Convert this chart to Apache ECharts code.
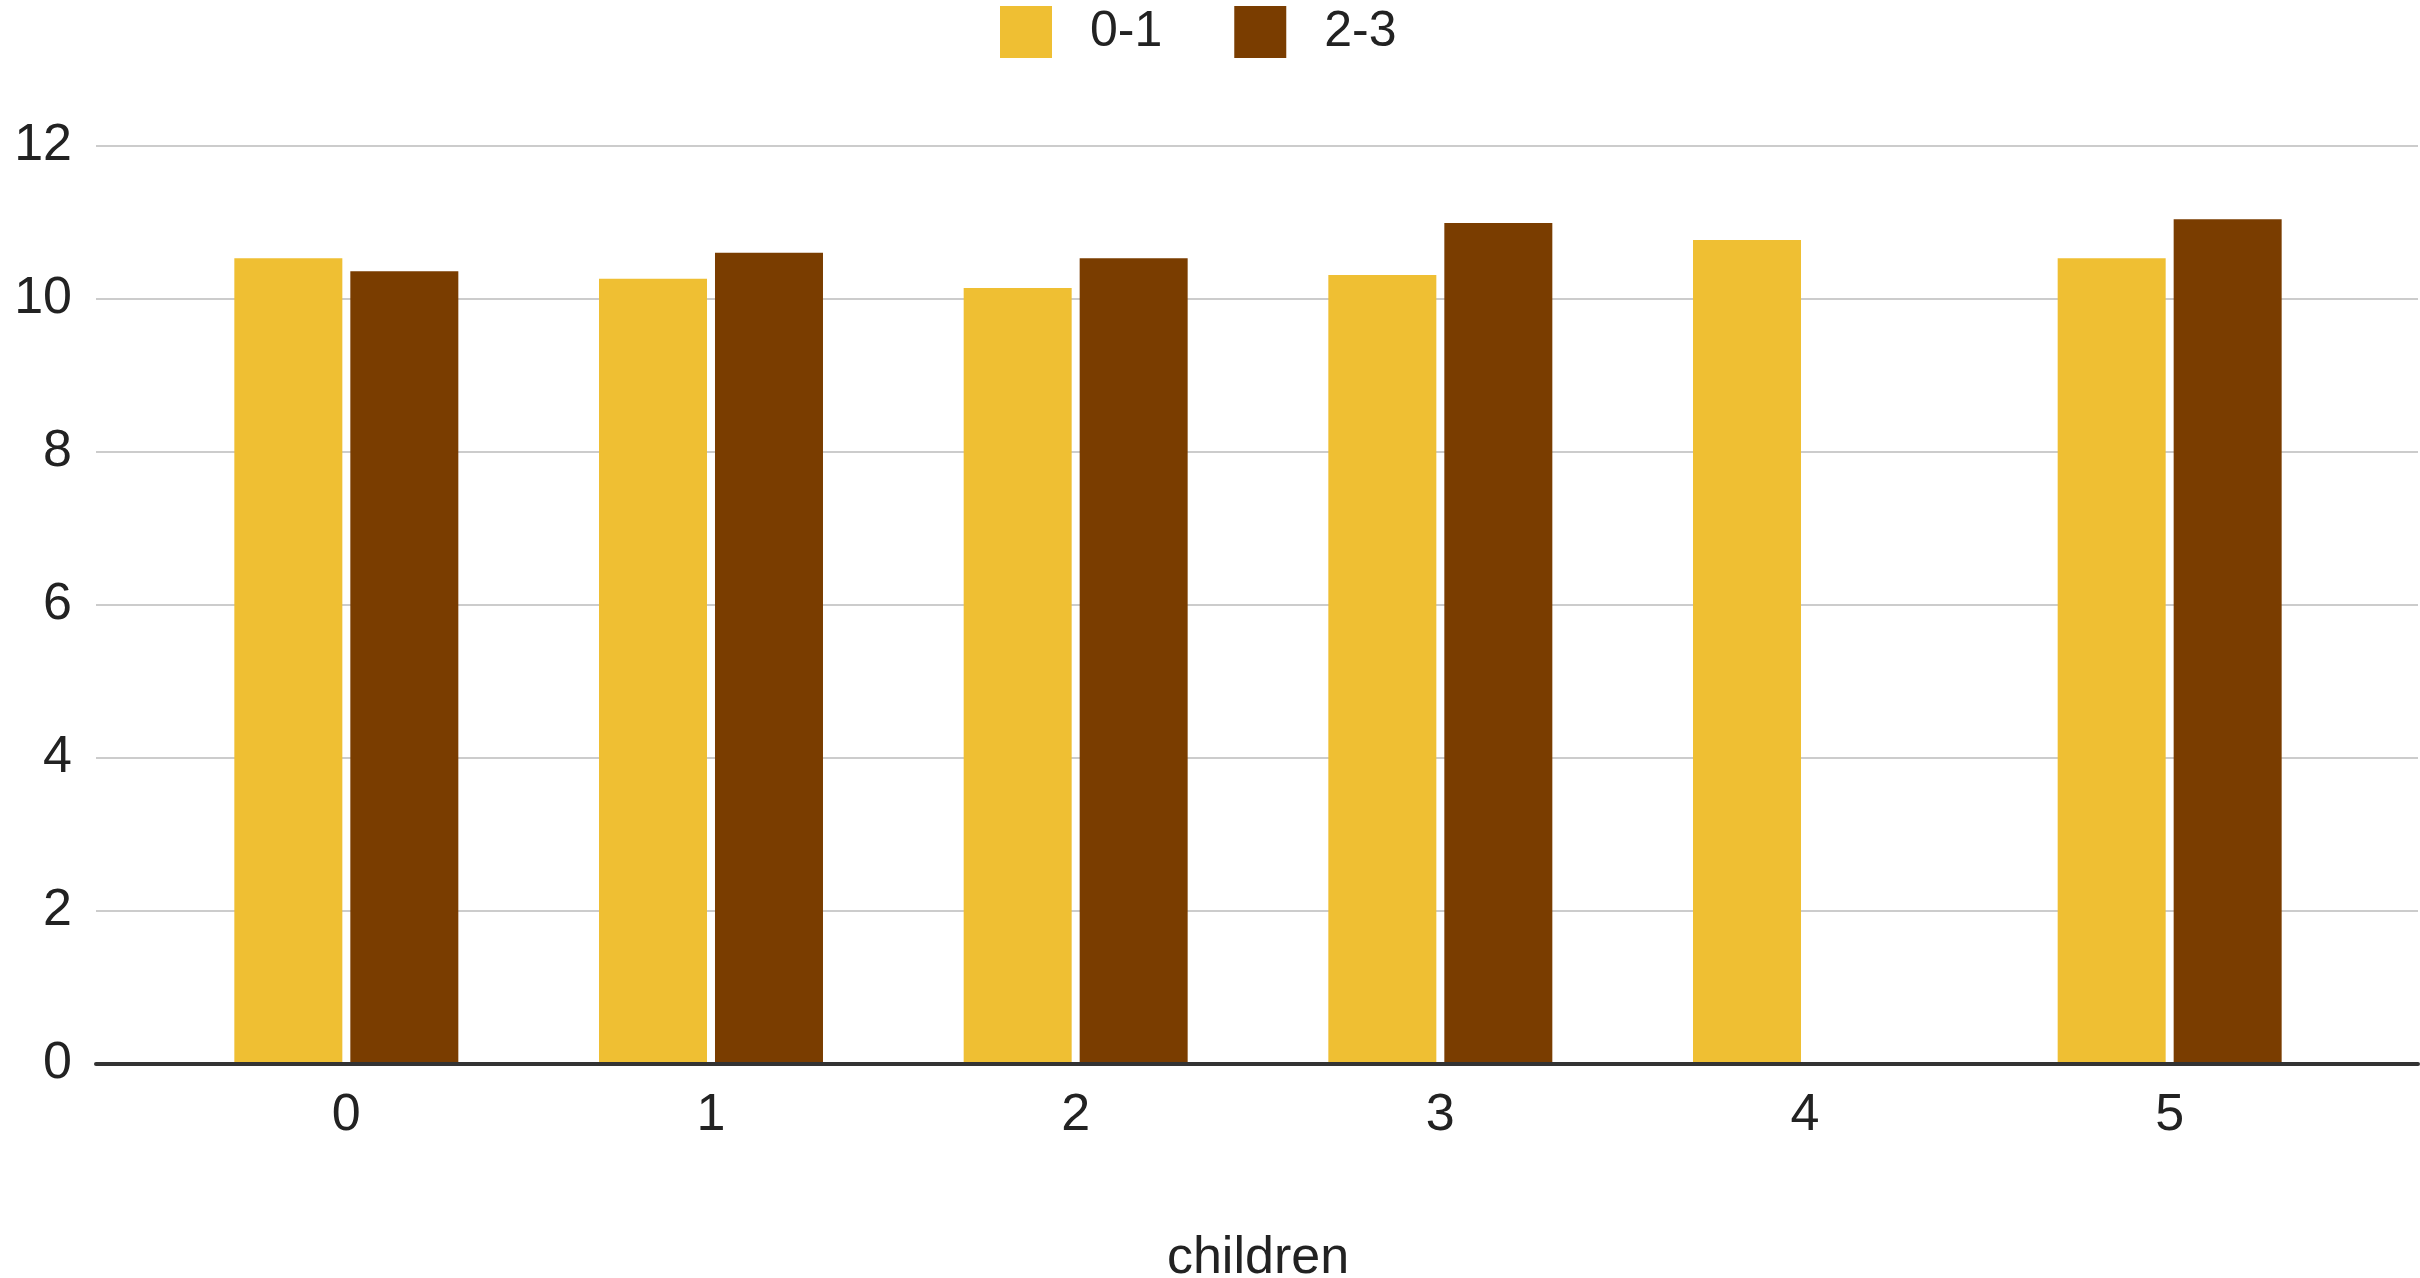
<!DOCTYPE html>
<html>
<head>
<meta charset="utf-8">
<script src="https://cdn.jsdelivr.net/npm/echarts@6/dist/echarts.min.js"></script>
<style>
  html, body { margin: 0; padding: 0; background: #ffffff; }
  #chart { width: 2420px; height: 1278px; }
</style>
</head>
<body>
<div id="chart"></div>
<script>
// ---- data ----
const categories = ['0', '1', '2', '3', '4', '5'];
const seriesNames = ['0-1', '2-3'];
const values01 = [10.53, 10.26, 10.14, 10.31, 10.77, 10.53];
const values23 = [10.36, 10.60, 10.53, 10.99, null, 11.04];
const yMin = 0, yMax = 12, yStep = 2;
const xAxisTitle = 'children';

// ---- chart ----
const FONT = 'Liberation Sans, Arial, sans-serif';
const TXT = '#222222';
const chart = echarts.init(document.getElementById('chart'), null, { renderer: 'canvas' });

const option = {
  backgroundColor: '#ffffff',
  animation: false,
  textStyle: { fontFamily: FONT },
  legend: {
    data: seriesNames,
    left: 995,
    top: 1,
    itemWidth: 52,
    itemHeight: 52,
    itemGap: 72,
    icon: 'rect',
    textStyle: { fontSize: 50, color: TXT, fontFamily: FONT, padding: [0, 0, 0, 33] }
  },
  grid: [
    { left: 96, right: 2, top: 146, bottom: 214, containLabel: false, outerBoundsMode: 'none' },
    { left: 164, right: 68, top: 146, bottom: 216, containLabel: false, outerBoundsMode: 'none' }
  ],
  xAxis: [
    {
      gridIndex: 0, type: 'category', data: [''],
      axisLine: { show: true, lineStyle: { color: '#333333', width: 4 } },
      axisTick: { show: false }, axisLabel: { show: false }, splitLine: { show: false }
    },
    {
      gridIndex: 1, type: 'category', data: categories,
      axisLine: { show: false }, axisTick: { show: false },
      axisLabel: { fontSize: 52, color: TXT, fontFamily: FONT, margin: 28 },
      name: xAxisTitle, nameLocation: 'middle', nameGap: 171,
      nameTextStyle: { fontSize: 52, color: TXT, fontFamily: FONT }
    }
  ],
  yAxis: [
    {
      gridIndex: 0, type: 'value', min: yMin, max: yMax, interval: yStep,
      axisLine: { show: false }, axisTick: { show: false },
      axisLabel: { fontSize: 52, color: TXT, fontFamily: FONT, margin: 24 },
      splitLine: { show: true, lineStyle: { color: '#cccccc', width: 2 } }
    },
    {
      gridIndex: 1, type: 'value', min: yMin, max: yMax, interval: yStep, show: false,
      splitLine: { show: false }
    }
  ],
  series: [
    {
      name: seriesNames[0], type: 'bar', xAxisIndex: 1, yAxisIndex: 1,
      data: values01, barWidth: 108, barGap: '7.4%',
      itemStyle: { color: '#EFBF33' }
    },
    {
      name: seriesNames[1], type: 'bar', xAxisIndex: 1, yAxisIndex: 1,
      data: values23, barWidth: 108, barGap: '7.4%',
      itemStyle: { color: '#7A3D00' }
    }
  ]
};
chart.setOption(option);
</script>
</body>
</html>
